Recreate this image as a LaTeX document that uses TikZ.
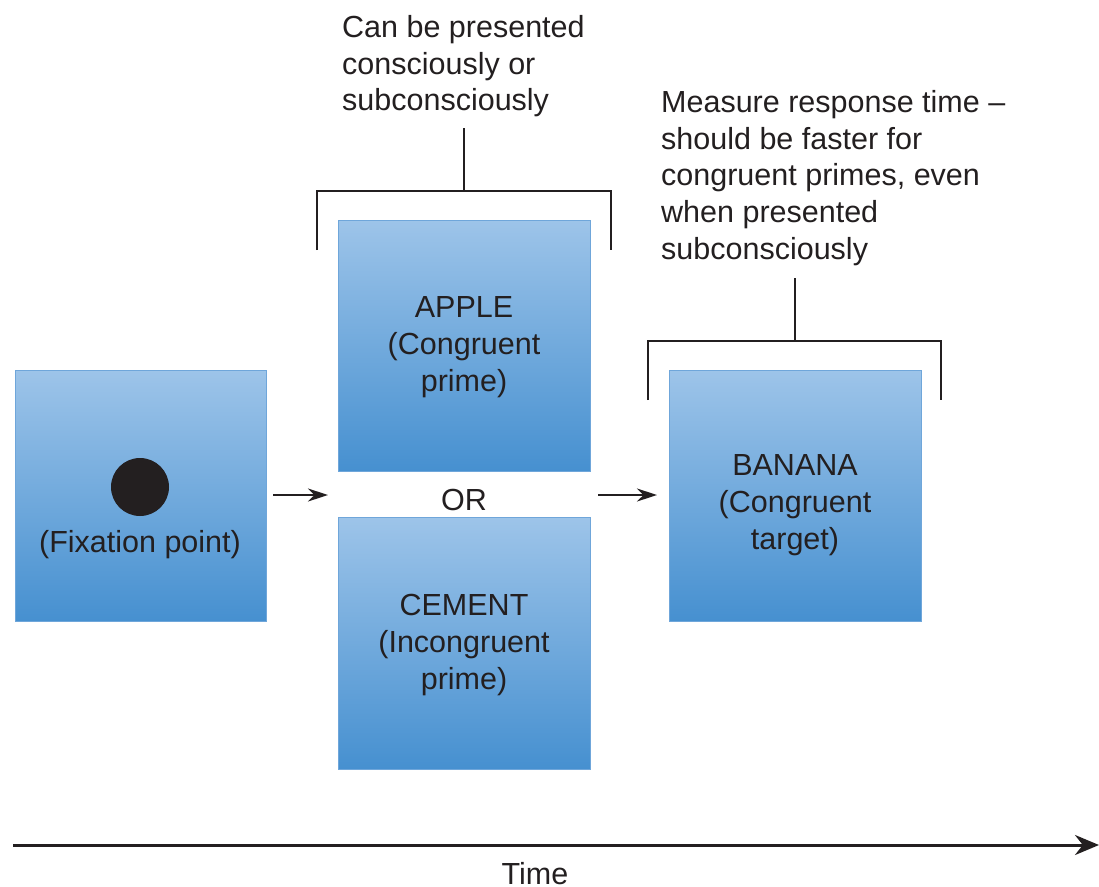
\documentclass[tikz,border=0pt]{standalone}
\usepackage{fontspec}
\setmainfont{Liberation Sans}
\usetikzlibrary{arrows.meta}
\definecolor{boxtop}{HTML}{9DC4E9}
\definecolor{boxbot}{HTML}{4690D0}
\definecolor{boxline}{HTML}{6FA6DA}
\definecolor{ink}{HTML}{231F20}
\begin{document}
\begin{tikzpicture}[x=1pt,y=-1pt,
  stim/.style={draw=boxline, line width=1pt, top color=boxtop, bottom color=boxbot},
  lbl/.style={font=\fontsize{30.5}{37}\selectfont, text=ink, align=center, inner sep=0pt},
  note/.style={font=\fontsize{30.5}{36.7}\selectfont, text=ink, align=left, inner sep=0pt, anchor=north west},
  brk/.style={draw=ink, line width=2.2pt},
  conn/.style={draw=ink, line width=1.6pt, -{Stealth[length=20pt,width=13pt]}}]
\useasboundingbox (0,0) rectangle (1099,886);
% boxes
\path[stim] (15,370) rectangle (266,621);
\path[stim] (338,220) rectangle (590,471);
\path[stim] (338,517) rectangle (590,769);
\path[stim] (669,370) rectangle (921,621);
\coordinate (primeL) at (328,495);
\coordinate (targL) at (657,495);
\fill[ink] (140,487) circle (29);
\node[lbl] (fix) at (140,545) {(Fixation point)};
\node[lbl] (apple) at (464,347) {APPLE\\(Congruent\\prime)};
\node[lbl] (or) at (464,500) {OR};
\node[lbl] (cement) at (464,645) {CEMENT\\(Incongruent\\prime)};
\node[lbl] (banana) at (795,505) {BANANA\\(Congruent\\target)};
% arrows
\coordinate (a1) at (273,495);
\coordinate (a2) at (598,495);
\draw[conn] (a1) -- (primeL);
\draw[conn] (a2) -- (targL);
% brackets
\coordinate (b1) at (464,191);
\coordinate (b1s) at (464,128);
\draw[brk] (317,250) -- (317,191) -- (611,191) -- (611,250);
\draw[brk] (b1s) -- (b1);
\coordinate (b2) at (795,341);
\coordinate (b2s) at (795,278);
\draw[brk] (648,400) -- (648,341) -- (941,341) -- (941,400);
\draw[brk] (b2s) -- (b2);
% notes
\node[note] (n1) at (342,15) {Can be presented\\consciously or\\subconsciously};
\node[note] (n2) at (661,90) {Measure response time --\\should be faster for\\congruent primes, even\\when presented\\subconsciously};
% time axis
\coordinate (t0) at (13,845);
\coordinate (t1) at (1099,845);
\draw[draw=ink, line width=3pt, -{Stealth[length=24pt,width=20pt]}] (t0) -- (t1);
\node[font=\fontsize{30.5}{37}\selectfont, text=ink, inner sep=0pt, anchor=base] (time) at (535,884) {Time};
\end{tikzpicture}
\end{document}
